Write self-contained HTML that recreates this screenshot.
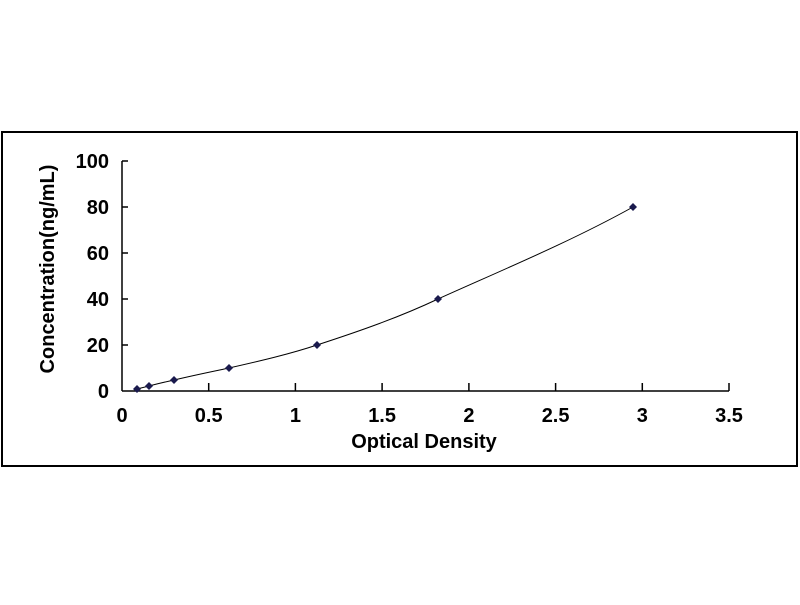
<!DOCTYPE html>
<html><head><style>body{margin:0;background:#fff}</style></head><body>
<svg width="800" height="600" xmlns="http://www.w3.org/2000/svg" font-family="Liberation Sans, sans-serif" font-weight="bold">
<rect x="2" y="132" width="795" height="334" fill="#fff" stroke="#000" stroke-width="2"/>
<g stroke="#000" stroke-width="1.5">
<line x1="122" y1="161" x2="122" y2="391"/>
<line x1="122" y1="391" x2="729" y2="391"/>
<line x1="122" y1="161" x2="128" y2="161"/>
<line x1="122" y1="207" x2="128" y2="207"/>
<line x1="122" y1="253" x2="128" y2="253"/>
<line x1="122" y1="299" x2="128" y2="299"/>
<line x1="122" y1="345" x2="128" y2="345"/>
<line x1="208.7" y1="391" x2="208.7" y2="383"/>
<line x1="295.4" y1="391" x2="295.4" y2="383"/>
<line x1="382.1" y1="391" x2="382.1" y2="383"/>
<line x1="468.9" y1="391" x2="468.9" y2="383"/>
<line x1="555.6" y1="391" x2="555.6" y2="383"/>
<line x1="642.3" y1="391" x2="642.3" y2="383"/>
<line x1="729" y1="391" x2="729" y2="383"/>
</g>
<g font-size="20" text-anchor="end">
<text x="109" y="168">100</text><text x="109" y="214">80</text><text x="109" y="260">60</text>
<text x="109" y="306">40</text><text x="109" y="352">20</text><text x="109" y="398">0</text>
</g>
<g font-size="20" text-anchor="middle">
<text x="122" y="422">0</text><text x="208.7" y="422">0.5</text><text x="295.4" y="422">1</text>
<text x="382.1" y="422">1.5</text><text x="468.9" y="422">2</text><text x="555.6" y="422">2.5</text>
<text x="642.3" y="422">3</text><text x="729" y="422">3.5</text>
</g>
<text x="424" y="448" font-size="20" text-anchor="middle">Optical Density</text>
<text transform="translate(54,269) rotate(-90)" font-size="20" text-anchor="middle">Concentration(ng/mL)</text>
<path d="M137,389 L149,386 C160,383 165,382 174,380 C195,375 210,372 229,368 C260,361 290,354 317,345 C360,331 400,317 438,299 C500,271 570,242 633,207" fill="none" stroke="#000" stroke-width="1"/>
<g fill="#1a1a4d">
<path d="M137,385 l4,4 -4,4 -4,-4z"/>
<path d="M149,382 l4,4 -4,4 -4,-4z"/>
<path d="M174,376 l4,4 -4,4 -4,-4z"/>
<path d="M229,364 l4,4 -4,4 -4,-4z"/>
<path d="M317,341 l4,4 -4,4 -4,-4z"/>
<path d="M438,295 l4,4 -4,4 -4,-4z"/>
<path d="M633,203 l4,4 -4,4 -4,-4z"/>
</g>
</svg>
</body></html>
